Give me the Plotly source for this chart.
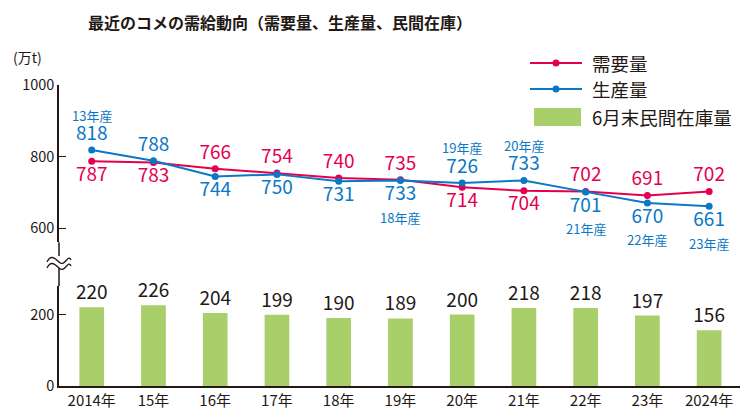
import plotly.graph_objects as go

years = ["2014年", "15年", "16年", "17年", "18年", "19年", "20年", "21年", "22年", "23年", "2024年"]
demand = [787, 783, 766, 754, 740, 735, 714, 704, 702, 691, 702]
production = [818, 788, 744, 750, 731, 733, 726, 733, 701, 670, 661]
stock = [220, 226, 204, 199, 190, 189, 200, 218, 218, 197, 156]
demand_pos = ["bottom", "bottom", "top", "top", "top", "top", "bottom", "bottom", "top", "top", "top"]
prod_pos = ["top", "top", "bottom", "bottom", "bottom", "bottom", "top", "top", "bottom", "bottom", "bottom"]
crop_year = ["13年産", "", "", "", "", "18年産", "19年産", "20年産", "21年産", "22年産", "23年産"]

RED = "#e5004f"
BLUE = "#0a78c6"
GREEN = "#a9cf6a"
DARK = "#231815"
FONT = "Noto Sans CJK JP"

# page body margin offset (page renders figure at 8px,8px)
OFF = 8
W, H = 750, 419
# plot area in reference-screen pixels
X0, X1, Y0, Y1 = 59, 740, 85, 386
L, T = X0 - OFF, Y0 - OFF
R = W - (X1 - OFF)
B = H - (Y1 - OFF)
PW, PH = X1 - X0, Y1 - Y0


def px(x):
    return (x - X0) / PW


def py(y):
    return (Y1 - y) / PH


fig = go.Figure()

fig.add_trace(go.Bar(
    x=years, y=stock, marker=dict(color=GREEN, line=dict(width=0)), width=0.4,
    text=[str(v) for v in stock], textposition="outside", constraintext="none",
    textfont=dict(size=19, color=DARK, family=FONT), cliponaxis=False,
    yaxis="y", showlegend=False, hoverinfo="skip"))

fig.add_trace(go.Scatter(
    x=years, y=demand, mode="lines+markers+text", yaxis="y2",
    line=dict(color=RED, width=2), marker=dict(color=RED, size=7),
    text=[str(v) for v in demand], textposition=[p + " center" for p in demand_pos],
    textfont=dict(size=19, color=RED, family=FONT), cliponaxis=False, showlegend=False))

fig.add_trace(go.Scatter(
    x=years, y=production, mode="lines+markers+text", yaxis="y2",
    line=dict(color=BLUE, width=2), marker=dict(color=BLUE, size=7),
    text=[str(v) for v in production], textposition=[p + " center" for p in prod_pos],
    textfont=dict(size=19, color=BLUE, family=FONT), cliponaxis=False, showlegend=False))

annotations = []
for yr, v, pos, lab in zip(years, production, prod_pos, crop_year):
    if lab:
        annotations.append(dict(x=yr, y=v, xref="x", yref="y2", text=lab, showarrow=False,
                                xanchor="center", yanchor="middle",
                                yshift=35 if pos == "top" else -37,
                                font=dict(size=13, color=BLUE, family=FONT)))

annotations.append(dict(x=px(11), y=py(57), xref="paper", yref="paper", text="(万t)",
                        xanchor="left", yanchor="middle",
                        showarrow=False, font=dict(size=14, color=DARK, family=FONT)))

# legend (manual)
legend_items = [("需要量", RED, 63), ("生産量", BLUE, 89)]
shapes = []
for name, col, yy in legend_items:
    shapes.append(dict(type="line", xref="paper", yref="paper", x0=px(530), x1=px(582),
                       y0=py(yy), y1=py(yy), line=dict(color=col, width=2.2)))
    shapes.append(dict(type="circle", xref="paper", yref="paper", x0=px(552.5), x1=px(559.5),
                       y0=py(yy + 3.5), y1=py(yy - 3.5), fillcolor=col, line=dict(width=0)))
    annotations.append(dict(x=px(590), y=py(yy), xref="paper", yref="paper", text=name,
                            xanchor="left", yanchor="middle", showarrow=False,
                            font=dict(size=18.5, color=DARK, family=FONT)))
shapes.append(dict(type="rect", xref="paper", yref="paper", x0=px(534), x1=px(581),
                   y0=py(126), y1=py(108), fillcolor=GREEN, line=dict(width=0)))
annotations.append(dict(x=px(590), y=py(117), xref="paper", yref="paper", text="6月末民間在庫量",
                        xanchor="left", yanchor="middle", showarrow=False,
                        font=dict(size=18.5, color=DARK, family=FONT)))

# axis line connecting the two y-axis parts
bar_top = 280
line_bot = 560
k = 0.3575
bar_dom_top = bar_top * k / PH
line_dom_bot = 1 - (1000 - line_bot) * k / PH
shapes.append(dict(type="line", xref="paper", yref="paper", x0=0, x1=0,
                   y0=bar_dom_top, y1=line_dom_bot, line=dict(color=DARK, width=1.5)))


# break mark
def wave(y0):
    return [(47, y0 + 3), (53, y0 - 3), (59, y0 + 3), (65, y0 - 3), (71, y0 + 1)]


def path_from(pts):
    s = "M %f,%f" % (px(pts[0][0]), py(pts[0][1]))
    s += " C %f,%f %f,%f %f,%f" % (px(pts[0][0] + 3), py(pts[0][1] - 6), px(pts[1][0]), py(pts[1][1]),
                                   px(pts[2][0]), py(pts[2][1]))
    s += " S %f,%f %f,%f" % (px(pts[3][0] + 3), py(pts[3][1] - 3), px(pts[4][0]), py(pts[4][1]))
    return s


top_w = wave(259)
bot_w = wave(265)
ps = "M " + " L ".join("%f,%f" % (px(a), py(b)) for a, b in [(46, 256), (72, 256), (72, 268), (46, 268)]) + " Z"
shapes.append(dict(type="path", xref="paper", yref="paper", path=ps, fillcolor="white",
                   line=dict(width=0), layer="above"))
for w in (top_w, bot_w):
    shapes.append(dict(type="path", xref="paper", yref="paper", path=path_from(w),
                       line=dict(color=DARK, width=1.3), layer="above"))

axis_common = dict(showgrid=False, zeroline=False, showline=True, linecolor=DARK, linewidth=1.5,
                   ticks="inside", ticklen=7, tickwidth=1.2, tickcolor=DARK,
                   tickfont=dict(size=14.5, color=DARK, family=FONT))

fig.update_layout(
    width=W, height=H,
    margin=dict(l=L, r=R, t=T, b=B, pad=0),
    paper_bgcolor="white", plot_bgcolor="white",
    title=dict(text="<b>最近のコメの需給動向（需要量、生産量、民間在庫）</b>", x=(280 - OFF) / W, xanchor="center",
               y=1 - (23 - OFF) / H, yanchor="middle", font=dict(size=16, color=DARK, family=FONT)),
    xaxis=dict(type="category", range=[-0.53, 10.5], showgrid=False, showline=True, linecolor=DARK,
               linewidth=1.5, ticks="", tickfont=dict(size=15, color=DARK, family=FONT), anchor="y"),
    yaxis=dict(domain=[0, bar_dom_top], range=[0, bar_top], tickvals=[0, 200], anchor="x", **axis_common),
    yaxis2=dict(domain=[line_dom_bot, 1], range=[line_bot, 1000], tickvals=[600, 800, 1000], anchor="x",
                **axis_common),
    shapes=shapes, annotations=annotations,
    bargap=0.6,
)

fig.write_html("out.html")
